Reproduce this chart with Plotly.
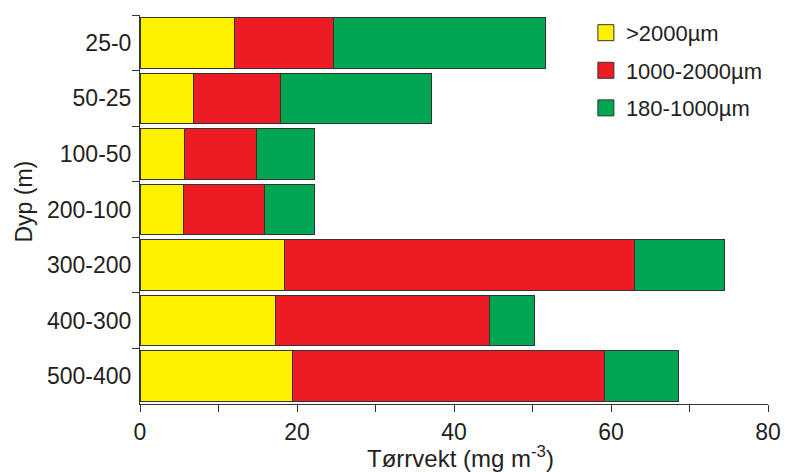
import plotly.graph_objects as go

depths = ["25-0", "50-25", "100-50", "200-100", "300-200", "400-300", "500-400"]
large = [12.0, 6.8, 5.7, 5.5, 18.4, 17.2, 19.4]          # >2000µm
medium = [12.7, 11.1, 9.2, 10.4, 44.6, 27.3, 39.8]       # 1000-2000µm
small = [26.9, 19.2, 7.3, 6.3, 11.5, 5.7, 9.4]            # 180-1000µm
series_names = [">2000µm", "1000-2000µm", "180-1000µm"]
colors = ["#FFF200", "#ED1C24", "#00A651"]

FONT = "Arial, Liberation Sans, sans-serif"
TXT = "#231F20"
EDGE = "#333333"

fig = go.Figure()
for name, vals, col in zip(series_names, [large, medium, small], colors):
    fig.add_trace(go.Bar(
        y=depths, x=vals, name=name, orientation="h",
        marker=dict(color=col, line=dict(color=EDGE, width=1)),
        legendgroup=name, showlegend=False,
    ))
# legend entries (larger square swatches)
for name, col in zip(series_names, colors):
    fig.add_trace(go.Scatter(
        x=[None], y=[None], mode="markers", name=name, legendgroup=name,
        marker=dict(symbol="square", size=16, color=col, line=dict(color=EDGE, width=1)),
        hoverinfo="skip",
    ))

# page body has an 8px margin: shrink the figure so the plot lands at the reference position
fig.update_layout(
    barmode="stack",
    bargap=0.09,
    width=787, height=464,
    margin=dict(l=132, r=27, t=4, b=68),
    paper_bgcolor="white", plot_bgcolor="white",
    font=dict(family=FONT, color=TXT, size=22),
    showlegend=True,
    legend=dict(
        x=0.71, y=1.008, xanchor="left", yanchor="top",
        font=dict(size=22, family=FONT, color=TXT),
        traceorder="grouped", tracegroupgap=6, itemsizing="trace",
        bgcolor="rgba(0,0,0,0)",
    ),
    xaxis=dict(
        range=[0, 80], tick0=0, dtick=20,
        ticks="outside", ticklen=7, tickcolor=EDGE, tickwidth=1,
        minor=dict(dtick=10, ticks="outside", ticklen=7, tickcolor=EDGE, tickwidth=1, showgrid=False),
        showline=True, linecolor=EDGE, linewidth=1,
        showgrid=False, zeroline=False,
        tickfont=dict(size=23),
    ),
    yaxis=dict(
        autorange="reversed",
        ticks="outside", tickson="boundaries", ticklen=7, tickcolor=EDGE, tickwidth=1,
        ticklabelstandoff=3,
        showline=True, linecolor=EDGE, linewidth=1,
        showgrid=False, zeroline=False,
        tickfont=dict(size=23),
    ),
    annotations=[
        dict(
            text="Dyp (m)", xref="paper", yref="paper",
            x=-0.185, y=0.52, xanchor="center", yanchor="middle",
            textangle=-90, showarrow=False,
            font=dict(size=23, family=FONT, color=TXT),
        ),
        dict(
            text="Tørrvekt (mg m<sup>-3</sup>)", xref="paper", yref="paper",
            x=0.511, y=-0.137, xanchor="center", yanchor="middle",
            showarrow=False,
            font=dict(size=24, family=FONT, color=TXT),
        ),
    ],
)

fig.write_html("out.html")
